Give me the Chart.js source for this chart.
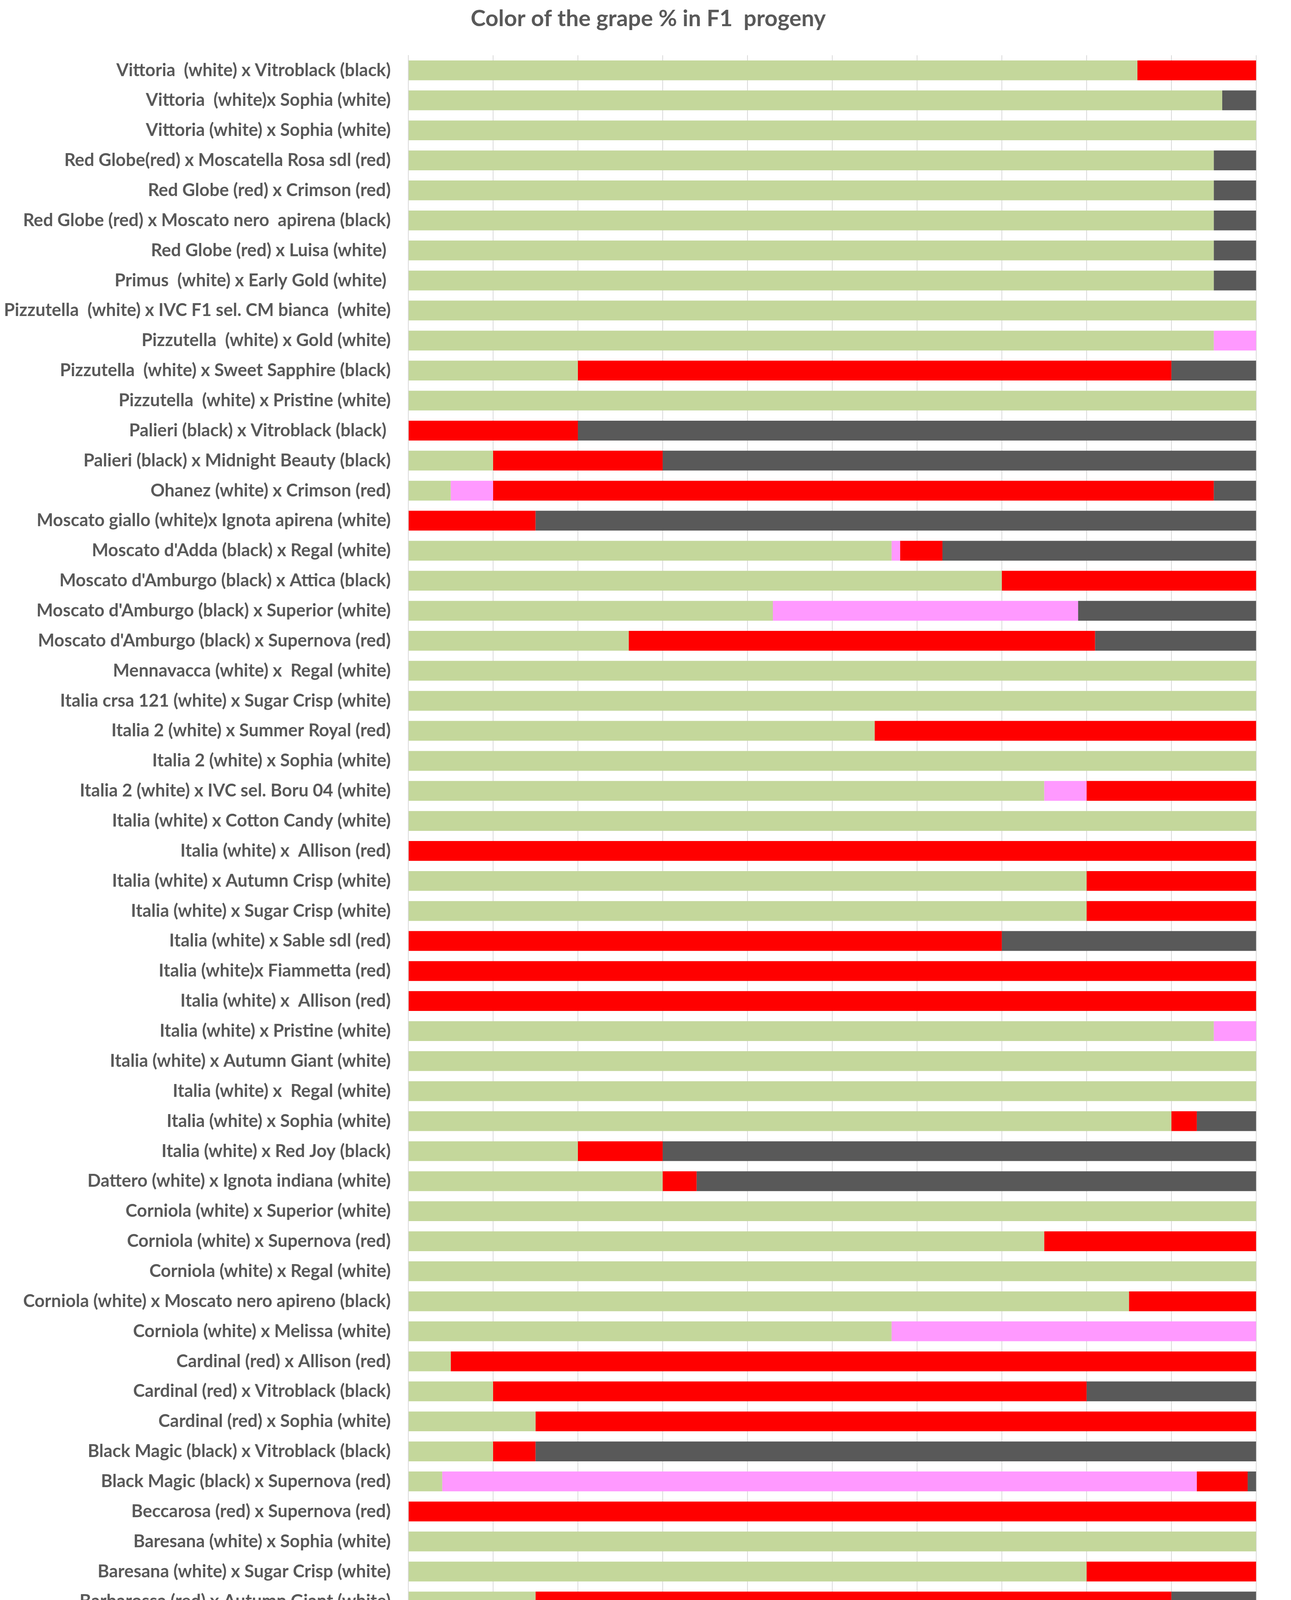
<!DOCTYPE html>
<html>
<head>
<meta charset="utf-8">
<script src="https://cdn.jsdelivr.net/npm/chart.js@4.4.0/dist/chart.umd.min.js"></script>
<style>
  html, body { margin: 0; padding: 0; background: #fff; }
  canvas { display: block; }
</style>
</head>
<body>
<canvas id="chart" width="3304" height="4466"></canvas>
<script>
// crosses, listed top to bottom as they appear
const crosses = [
  "Vittoria  (white) x Vitroblack (black)",
  "Vittoria  (white)x Sophia (white)",
  "Vittoria (white) x Sophia (white)",
  "Red Globe(red) x Moscatella Rosa sdl (red)",
  "Red Globe (red) x Crimson (red)",
  "Red Globe (red) x Moscato nero  apirena (black)",
  "Red Globe (red) x Luisa (white) ",
  "Primus  (white) x Early Gold (white) ",
  "Pizzutella  (white) x IVC F1 sel. CM bianca  (white)",
  "Pizzutella  (white) x Gold (white)",
  "Pizzutella  (white) x Sweet Sapphire (black)",
  "Pizzutella  (white) x Pristine (white)",
  "Palieri (black) x Vitroblack (black) ",
  "Palieri (black) x Midnight Beauty (black)",
  "Ohanez (white) x Crimson (red)",
  "Moscato giallo (white)x Ignota apirena (white)",
  "Moscato d'Adda (black) x Regal (white)",
  "Moscato d'Amburgo (black) x Attica (black)",
  "Moscato d'Amburgo (black) x Superior (white)",
  "Moscato d'Amburgo (black) x Supernova (red)",
  "Mennavacca (white) x  Regal (white)",
  "Italia crsa 121 (white) x Sugar Crisp (white)",
  "Italia 2 (white) x Summer Royal (red)",
  "Italia 2 (white) x Sophia (white)",
  "Italia 2 (white) x IVC sel. Boru 04 (white)",
  "Italia (white) x Cotton Candy (white)",
  "Italia (white) x  Allison (red)",
  "Italia (white) x Autumn Crisp (white)",
  "Italia (white) x Sugar Crisp (white)",
  "Italia (white) x Sable sdl (red)",
  "Italia (white)x Fiammetta (red)",
  "Italia (white) x  Allison (red)",
  "Italia (white) x Pristine (white)",
  "Italia (white) x Autumn Giant (white)",
  "Italia (white) x  Regal (white)",
  "Italia (white) x Sophia (white)",
  "Italia (white) x Red Joy (black)",
  "Dattero (white) x Ignota indiana (white)",
  "Corniola (white) x Superior (white)",
  "Corniola (white) x Supernova (red)",
  "Corniola (white) x Regal (white)",
  "Corniola (white) x Moscato nero apireno (black)",
  "Corniola (white) x Melissa (white)",
  "Cardinal (red) x Allison (red)",
  "Cardinal (red) x Vitroblack (black)",
  "Cardinal (red) x Sophia (white)",
  "Black Magic (black) x Vitroblack (black)",
  "Black Magic (black) x Supernova (red)",
  "Beccarosa (red) x Supernova (red)",
  "Baresana (white) x Sophia (white)",
  "Baresana (white) x Sugar Crisp (white)",
  "Barbarossa (red) x Autumn Giant (white)",
  "Alicante n.(black) x Sophia (white)"
];

// % of F1 seedlings per grape colour
const white = [86, 96, 100, 95, 95, 95, 95, 95, 100, 95, 20, 100, 0, 10, 5, 0, 57, 70, 43, 26, 100, 100, 55, 100, 75, 100, 0, 80, 80, 0, 0, 0, 95, 100, 100, 90, 20, 30, 100, 75, 100, 85, 57, 5, 10, 15, 10, 4, 0, 100, 80, 15, 0];
const pink = [0, 0, 0, 0, 0, 0, 0, 0, 0, 5, 0, 0, 0, 0, 5, 0, 1, 0, 36, 0, 0, 0, 0, 0, 5, 0, 0, 0, 0, 0, 0, 0, 5, 0, 0, 0, 0, 0, 0, 0, 0, 0, 43, 0, 0, 0, 0, 89, 0, 0, 0, 0, 0];
const red = [14, 0, 0, 0, 0, 0, 0, 0, 0, 0, 70, 0, 20, 20, 85, 15, 5, 30, 0, 55, 0, 0, 45, 0, 20, 0, 100, 20, 20, 70, 100, 100, 0, 0, 0, 3, 10, 4, 0, 25, 0, 15, 0, 95, 70, 85, 5, 6, 100, 0, 20, 75, 0];
const black = [0, 4, 0, 5, 5, 5, 5, 5, 0, 0, 10, 0, 80, 70, 5, 85, 37, 0, 21, 19, 0, 0, 0, 0, 0, 0, 0, 0, 0, 30, 0, 0, 0, 0, 0, 7, 70, 66, 0, 0, 0, 0, 0, 0, 20, 0, 85, 1, 0, 0, 0, 10, 100];

const seriesNames = ["white", "pink", "red", "black"];
const seriesColors = ["#C4D79B", "#FF99FF", "#FF0000", "#595959"];

const textColor = "#595959";
const fontFamily = "'Lato', sans-serif";

// title and legend sit a little right of the canvas centre in the original
const recentre = {
  id: 'recentre',
  afterLayout(chart) {
    chart.titleBlock.left += 94;
    chart.legend.left += 94;
  }
};

const ctx = document.getElementById('chart').getContext('2d');

const chart = new Chart(ctx, {
  type: 'bar',
  data: {
    labels: crosses,
    datasets: [white, pink, red, black].map((values, i) => ({
      label: seriesNames[i],
      data: values,
      backgroundColor: seriesColors[i],
      borderWidth: 0,
      categoryPercentage: 1.0,
      barPercentage: 0.66
    }))
  },
  plugins: [recentre],
  options: {
    indexAxis: 'y',
    responsive: false,
    devicePixelRatio: 1,
    animation: false,
    layout: {
      padding: { left: 0, right: 80, top: 0, bottom: 19 }
    },
    scales: {
      x: {
        stacked: true,
        min: 0,
        max: 100,
        ticks: {
          stepSize: 10,
          padding: 33,
          color: textColor,
          font: { family: fontFamily, size: 44 },
          callback: v => v.toFixed(1)
        },
        grid: { color: '#D9D9D9', lineWidth: 2, drawTicks: false },
        border: { display: false }
      },
      y: {
        stacked: true,
        ticks: {
          padding: 45,
          autoSkip: false,
          color: textColor,
          font: { family: fontFamily, size: 45, weight: 'bold' }
        },
        grid: { display: false, drawTicks: false },
        border: { display: true, color: '#D9D9D9', width: 2 },
        afterFit: scale => { scale.width = 1045; }
      }
    },
    plugins: {
      title: {
        display: true,
        text: 'Color of the grape % in F1  progeny',
        color: textColor,
        font: { family: fontFamily, size: 58, weight: 'bold' },
        padding: { top: 13, bottom: 59 }
      },
      legend: {
        position: 'bottom',
        labels: {
          color: textColor,
          font: { family: fontFamily, size: 46 },
          boxWidth: 31,
          boxHeight: 31,
          padding: 57
        }
      },
      tooltip: { enabled: false }
    }
  }
});
</script>
</body>
</html>
